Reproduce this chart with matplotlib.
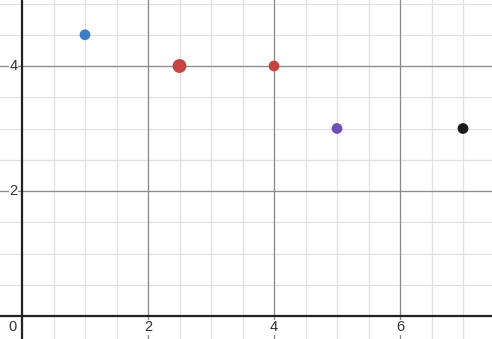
import matplotlib.pyplot as plt
import numpy as np

# points
xs = [1, 2.5, 4, 5, 7]
ys = [4.5, 4, 4, 3, 3]
colors = ['#3d7fc7', '#c74440', '#c74440', '#6f4fb5', '#1a1a1a']
sizes = [60, 100, 60, 60, 60]

x_ticks = [2, 4, 6]
y_ticks = [2, 4]

fig = plt.figure(figsize=(4.92, 3.39), dpi=100)
ax = fig.add_axes([0, 0, 1, 1])
ax.set_xlim(-22 / 63, 470 / 63)
ax.set_ylim(-23 / 62.5, 316 / 62.5)

# minor / major grid
for v in np.arange(0, 8, 0.5):
    ax.axvline(v, color='#e0e0e0', lw=0.9, zorder=0)
for v in np.arange(0, 5.5, 0.5):
    ax.axhline(v, color='#e0e0e0', lw=0.9, zorder=0)
for v in x_ticks:
    ax.axvline(v, color='#8a8a8a', lw=0.9, zorder=1)
for v in y_ticks:
    ax.axhline(v, color='#8a8a8a', lw=0.9, zorder=1)
ax.axvline(0, color='#222222', lw=1.6, zorder=2)
ax.axhline(0, color='#222222', lw=1.6, zorder=2)

for v in x_ticks:
    ax.text(v, -0.07, str(v), ha='center', va='top', fontsize=10.5,
            color='#333333', family='Liberation Sans', zorder=3,
            bbox=dict(facecolor='white', edgecolor='none', pad=0.5))
for v in y_ticks:
    ax.text(-0.07, v, str(v), ha='right', va='center', fontsize=10.5,
            color='#333333', family='Liberation Sans', zorder=3,
            bbox=dict(facecolor='white', edgecolor='none', pad=0.5))
ax.text(-0.09, -0.07, '0', ha='right', va='top', fontsize=10.5,
        color='#333333', family='Liberation Sans', zorder=3)

ax.scatter(xs, ys, s=sizes, c=colors, zorder=4, edgecolors='none')

for s in ax.spines.values():
    s.set_visible(False)
ax.set_xticks([])
ax.set_yticks([])

fig.savefig('out.png', dpi=100)
